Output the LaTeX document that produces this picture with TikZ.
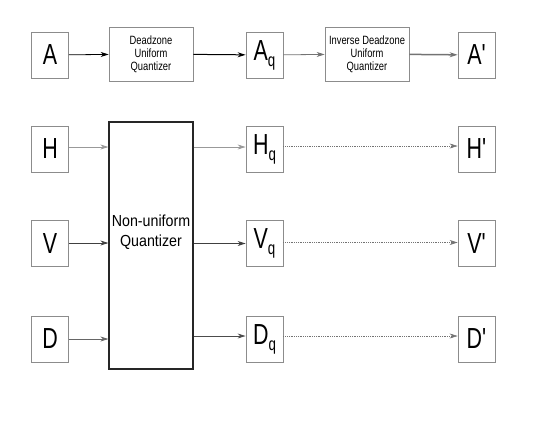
\documentclass[tikz,border=0pt]{standalone}
\usepackage{fontspec}
\setmainfont{Liberation Sans}
\newfontfamily\bigfnt[FakeStretch=0.74]{Liberation Sans}
\newfontfamily\smallfnt[FakeStretch=0.78]{Liberation Sans}
\newfontfamily\midfnt[FakeStretch=0.89]{Liberation Sans}
\usetikzlibrary{arrows.meta}
\newcommand{\qsub}{\raisebox{-6pt}{\fontsize{18}{18}\selectfont q}}
\newcommand{\prm}{\symbol{"27}}
\begin{document}
\begin{tikzpicture}[x=1pt,y=-1pt,
  sig/.style={draw=black!45,line width=0.8pt,minimum width=37pt,minimum height=46pt,inner sep=0pt,
    font=\bigfnt\fontsize{29}{29}\selectfont},
  qbox/.style={draw=black!45,line width=0.8pt,minimum width=84pt,minimum height=54pt,inner sep=0pt,
    align=center,font=\smallfnt\fontsize{12}{13}\selectfont},
  bigq/.style={draw=black!85,line width=1.2pt,minimum width=84pt,minimum height=247pt,inner sep=0pt},
  arr/.style={-{Stealth[length=8pt,width=5pt,inset=2.5pt]},line width=0.8pt},
  dot/.style={arr,draw=black!55,line width=0.6pt,dash pattern=on 1pt off 0.8pt}]
\useasboundingbox (0,0) rectangle (545,421);
% top row
\node[sig] (A) at (50,55) {A};
\node[qbox] (DZ) at (151,54) {Deadzone\\Uniform\\Quantizer};
\node[sig] (Aq) at (264.5,55) {A\qsub};
\node[qbox] (IDZ) at (367,54) {Inverse Deadzone\\Uniform\\Quantizer};
\node[sig] (Ap) at (476.5,55) {A\prm};
\draw[arr,draw=black] (A) -- (DZ);
\draw[arr,draw=black,line width=1pt] (DZ) -- (Aq);
\draw[arr,draw=black!55] (Aq) -- (IDZ);
\draw[arr,draw=black!55,line width=1.5pt] (IDZ) -- (Ap);
% lower rows
\node[bigq] (Q) at (151,245.5) {};
\node[font=\midfnt\fontsize{16}{20}\selectfont,align=center,inner sep=0pt] (Qt) at (151,232) {Non-uniform\\Quantizer};
\node[sig] (H) at (50,149) {H};
\node[sig] (V) at (50,243.5) {V};
\node[sig] (D) at (50,339) {D};
\node[sig] (Hq) at (264.5,149) {H\qsub};
\node[sig] (Vq) at (264.5,243.5) {V\qsub};
\node[sig] (Dq) at (264.5,339) {D\qsub};
\node[sig] (Hp) at (476.5,149) {H\prm};
\node[sig] (Vp) at (476.5,243.5) {V\prm};
\node[sig] (Dp) at (476.5,339) {D\prm};
\draw[arr,draw=black!40] ([yshift=2pt]H.east) -- ([yshift=2pt]H.east -| Q.west);
\draw[arr,draw=black!75] ([yshift=0.5pt]V.east) -- ([yshift=0.5pt]V.east -| Q.west);
\draw[arr,draw=black!60] (D.east) -- (D.east -| Q.west);
\draw[arr,draw=black!40] ([yshift=2pt]Hq.west -| Q.east) -- ([yshift=2pt]Hq.west);
\draw[arr,draw=black!75] (Vq.west -| Q.east) -- (Vq.west);
\draw[arr,draw=black!70,line width=1pt] ([yshift=3pt]Dq.west -| Q.east) -- ([yshift=3pt]Dq.west);
\draw[dot] ([yshift=3pt]Hq.east) -- ([yshift=3pt]Hp.west);
\draw[dot] ([yshift=1pt]Vq.east) -- ([yshift=1pt]Vp.west);
\draw[dot] ([yshift=3pt]Dq.east) -- ([yshift=3pt]Dp.west);
\end{tikzpicture}
\end{document}
